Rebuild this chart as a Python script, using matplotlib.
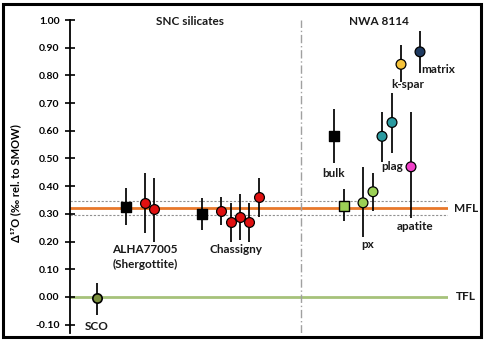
import matplotlib
matplotlib.use("Agg")
import matplotlib.pyplot as plt
from matplotlib.patches import Rectangle

plt.rcParams['font.family'] = ['Lato', 'DejaVu Sans']
plt.rcParams['font.weight'] = 'bold'

# x positions are plot slots (arbitrary units), y values are D17O in permil
sco_x, sco_y, sco_lo, sco_hi = [2.7], [-0.005], [0.06], [0.055]

bulk_x = [5.6, 13.2, 26.4]
bulk_y = [0.325, 0.30, 0.58]
bulk_lo = [0.065, 0.058, 0.095]
bulk_hi = [0.068, 0.057, 0.10]

snc_x = [7.5, 8.4, 15.1, 16.1, 17.0, 17.9, 18.9]
snc_y = [0.34, 0.318, 0.31, 0.27, 0.29, 0.27, 0.36]
snc_lo = [0.11, 0.118, 0.05, 0.07, 0.085, 0.07, 0.07]
snc_hi = [0.108, 0.112, 0.05, 0.07, 0.082, 0.07, 0.07]

nwa_sq_x, nwa_sq_y, nwa_sq_lo, nwa_sq_hi = [27.4], [0.33], [0.055], [0.06]

min_x = [29.3, 30.3, 31.2, 32.2, 33.1, 34.1, 35.0]
min_y = [0.34, 0.38, 0.58, 0.63, 0.84, 0.47, 0.885]
min_lo = [0.123, 0.07, 0.093, 0.11, 0.064, 0.185, 0.075]
min_hi = [0.13, 0.068, 0.088, 0.107, 0.07, 0.198, 0.075]
min_col = ['#9bd055', '#9bd055', '#2a9aa0', '#2a9aa0', '#f6c33a', '#f040c8', '#1f3a60']

mfl = 0.32
mfl_band = [0.295, 0.347]
tfl = 0.0
divider_x = 23.1

fig = plt.figure(figsize=(4.85, 3.41), dpi=100)
ax = fig.add_axes([70/485, 1-333/341, 378/485, 313/341])
ax.set_xlim(0, 37.8)
ax.set_ylim(-0.13, 1.0)

# reference lines
ax.axhline(mfl, color='#e8782a', lw=2, zorder=1)
for yb in mfl_band:
    ax.axhline(yb, color='#909090', lw=0.8, ls=(0, (2, 1.5)), zorder=1)
ax.axhline(tfl, color='#a6c27a', lw=2, zorder=1)
ax.axvline(divider_x, color='#a0a0a0', lw=1, ls=(0, (6, 2, 1, 2)), zorder=1)

eb = dict(fmt='none', ecolor='black', elinewidth=1.25, capsize=0, zorder=2)
ax.errorbar(sco_x, sco_y, yerr=[sco_lo, sco_hi], **eb)
ax.errorbar(bulk_x, bulk_y, yerr=[bulk_lo, bulk_hi], **eb)
ax.errorbar(snc_x, snc_y, yerr=[snc_lo, snc_hi], **eb)
ax.errorbar(nwa_sq_x, nwa_sq_y, yerr=[nwa_sq_lo, nwa_sq_hi], **eb)
ax.errorbar(min_x, min_y, yerr=[min_lo, min_hi], **eb)

ax.scatter(sco_x, sco_y, s=45, c='#7a8f3c', edgecolors='black', linewidths=1.2, zorder=3)
ax.scatter(bulk_x, bulk_y, s=50, marker='s', c='black', zorder=3)
ax.scatter(snc_x, snc_y, s=50, c='#e01010', edgecolors='black', linewidths=0.9, zorder=3)
ax.scatter(nwa_sq_x, nwa_sq_y, s=48, marker='s', c='#9bd055', edgecolors='black', linewidths=1.0, zorder=3)
ax.scatter(min_x, min_y, s=50, c=min_col, edgecolors='black', linewidths=0.9, zorder=3)

# axis styling
for side in ['top', 'right', 'bottom']:
    ax.spines[side].set_visible(False)
ax.spines['left'].set_linewidth(1.3)
ax.set_xticks([])
ax.set_yticks([-0.1, 0.0, 0.1, 0.2, 0.3, 0.4, 0.5, 0.6, 0.7, 0.8, 0.9, 1.0])
ax.set_yticklabels(['%.2f' % v for v in ax.get_yticks()], fontsize=7.5, fontweight='bold')
ax.tick_params(axis='y', direction='inout', length=7, width=1.2, pad=4)
ax.set_ylabel('Δ¹⁷O (‰ rel. to SMOW)', fontsize=8, fontweight='bold', labelpad=6)
ax.yaxis.set_label_coords(-0.13, 0.48)

tk = dict(fontsize=8.5, fontweight='bold', color='#1a1a1a', ha='center', va='center')
ax.text(12.0, 0.995, 'SNC silicates', **tk)
ax.text(30.9, 0.995, 'NWA 8114', **tk)
ax.text(7.5, 0.17, 'ALHA77005', **tk)
ax.text(7.5, 0.118, '(Shergottite)', **tk)
ax.text(16.6, 0.17, 'Chassigny', **tk)
ax.text(2.7, -0.105, 'SCO', **tk)
ax.text(26.4, 0.445, 'bulk', **tk)
ax.text(29.8, 0.19, 'px', **tk)
ax.text(32.2, 0.47, 'plag', **tk)
ax.text(33.8, 0.767, 'k-spar', **tk)
ax.text(36.8, 0.822, 'matrix', **tk)
ax.text(34.5, 0.255, 'apatite', **tk)
ax.text(39.6, mfl, 'MFL', clip_on=False, **tk)
ax.text(39.6, tfl, 'TFL', clip_on=False, **tk)

# chart frame
fig.patches.append(Rectangle((3/485, 4/341), 478/485, 333/341, transform=fig.transFigure,
                             fill=False, edgecolor='black', lw=2.2))

fig.savefig('out.png', dpi=100)
